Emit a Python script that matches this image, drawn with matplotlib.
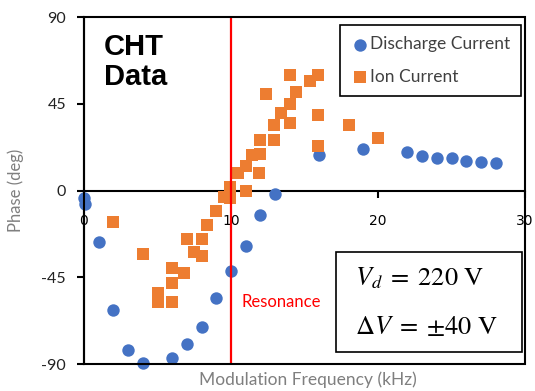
import matplotlib
matplotlib.use("Agg")
import matplotlib.pyplot as plt
from matplotlib.patches import Rectangle

# ---- data ----
discharge_freq = [0.0, 0.1, 1, 2, 3, 4, 6, 7, 8, 9, 10, 11, 12, 13, 16, 19, 22, 23, 24, 25, 26, 27, 28]
discharge_phase = [-4, -7, -26.5, -62, -82.7, -89.5, -86.7, -79.6, -71, -56, -41.6, -29, -12.5, -1.6,
                   18.2, 21.3, 19.8, 17.7, 16.7, 16.8, 15.1, 15.0, 14.5]

ion_freq = [2, 4, 5, 5, 6, 6, 6, 6.8, 7, 7.5, 8, 8, 8.4, 9, 9.5, 9.9, 9.9, 10.5, 11, 11, 11.4,
            11.9, 12, 12, 12.4, 12.9, 12.9, 13.4, 14, 14, 14, 14.4, 15.4, 15.9, 15.9, 15.9, 18, 20]
ion_phase = [-16.5, -33, -53, -58, -58, -40, -48, -43, -25, -32, -25, -34, -18, -10.5, -3.5, 2, -4,
             9, -0.5, 12.5, 18.5, 9, 26, 18.7, 50, 34, 26, 40, 35, 45, 60, 51, 57, 60, 39, 23, 34, 27]

x_ticks = [0, 10, 20, 30]
y_ticks = [-90, -45, 0, 45, 90]
resonance_freq = 10

blue = "#4472C4"
orange = "#ED7D31"
font = "Lato"
plt.rcParams["mathtext.fontset"] = "stix"

fig = plt.figure(figsize=(5.35, 3.91), dpi=100)
ax = fig.add_axes([84/535, 1-364/391, (525-84)/535, (364-17)/391])

ax.scatter(discharge_freq, discharge_phase, s=80, marker="o", color=blue, zorder=3,
           clip_on=False, linewidths=0, label="Discharge Current")
ax.scatter(ion_freq, ion_phase, s=80, marker="s", color=orange, zorder=4,
           clip_on=False, linewidths=0, label="Ion Current")
ax.axvline(resonance_freq, color="red", lw=1.6, zorder=5)

ax.set_xlim(0, 30)
ax.set_ylim(-90, 90)
ax.set_xticks(x_ticks)
ax.set_yticks(y_ticks)
ax.set_xticklabels([str(t) for t in x_ticks], fontfamily=font, fontsize=11.5, color="#222222")
ax.set_yticklabels([str(t) for t in y_ticks], fontfamily=font, fontsize=11.5, color="#222222")

for s in ["top", "right"]:
    ax.spines[s].set_visible(False)
ax.spines["bottom"].set_position(("data", 0))
ax.spines["bottom"].set_linewidth(1.5)
ax.spines["left"].set_linewidth(1.5)
ax.add_patch(Rectangle((0, 0), 1, 1, transform=ax.transAxes, fill=False,
                       lw=1.5, edgecolor="black", clip_on=False, zorder=6))
ax.tick_params(axis="x", direction="out", length=5, width=1.5, pad=12)
ax.tick_params(axis="y", direction="out", length=5, width=1.5, pad=8)

ax.set_ylabel("Phase (deg)", fontfamily=font, fontsize=12, color="#7f7f7f")
ax.yaxis.set_label_coords(-0.135, 0.5)
fig.text(308/535, 1-380/391, "Modulation Frequency (kHz)", fontfamily=font, fontsize=12.5,
         color="#7f7f7f", ha="center", va="center")

ax.text(0.045, 0.955, "CHT\nData", transform=ax.transAxes, fontsize=21, fontweight="bold",
        fontfamily="Liberation Sans", va="top", ha="left", linespacing=1.1)
ax.text(10.7, -58, "Resonance", color="red", fontfamily=font, fontsize=12, va="center", ha="left")

leg = ax.legend(loc="upper right", bbox_to_anchor=(0.991, 0.977), frameon=True, fancybox=False,
                edgecolor="black", framealpha=1, borderpad=0.65, handletextpad=0.05,
                labelspacing=0.95, prop={"family": font, "size": 12.5}, handlelength=1.0,
                borderaxespad=0)
leg.get_frame().set_linewidth(1.2)
for t in leg.get_texts():
    t.set_color("#404040")

ax.add_patch(Rectangle((0.571, 0.035), 0.422, 0.288, transform=ax.transAxes, fill=True,
                       facecolor="white", lw=1.2, edgecolor="black", zorder=7))
ax.text(0.615, 0.248, r"$V_d \;=\; 220\ \mathrm{V}$", transform=ax.transAxes, fontsize=19,
        va="center", ha="left", zorder=8)
ax.text(0.615, 0.107, r"$\Delta V \;=\; {\pm}40\ \mathrm{V}$", transform=ax.transAxes, fontsize=19,
        va="center", ha="left", zorder=8)

fig.savefig("out.png", dpi=100)
